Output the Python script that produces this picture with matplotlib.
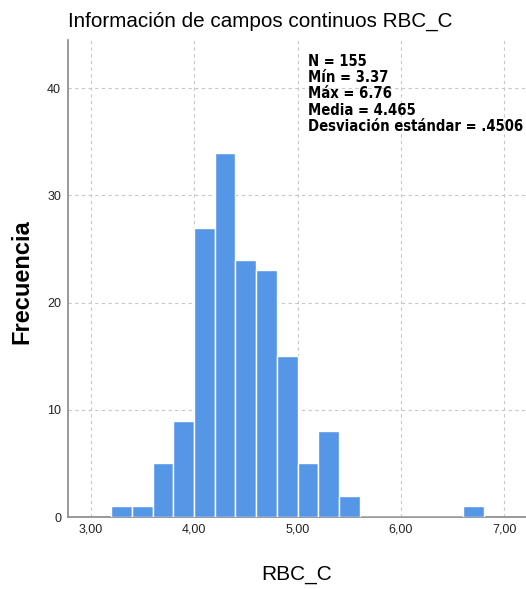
import matplotlib
matplotlib.use("Agg")
import matplotlib.pyplot as plt
import numpy as np

bin_edges = [3.2, 3.4, 3.6, 3.8, 4.0, 4.2, 4.4, 4.6, 4.8, 5.0, 5.2, 5.4, 5.6, 5.8, 6.0, 6.2, 6.4, 6.6, 6.8]
counts = [1, 1, 5, 9, 27, 34, 24, 23, 15, 5, 8, 2, 0, 0, 0, 0, 0, 1]
xticks = [3.0, 4.0, 5.0, 6.0, 7.0]
xtick_labels = ["3,00", "4,00", "5,00", "6,00", "7,00"]
yticks = [0, 10, 20, 30, 40]
stats_lines = ["N = 155", "Mín = 3.37", "Máx = 6.76", "Media = 4.465", "Desviación estándar = .4506"]

plt.rcParams['font.family'] = ['Liberation Sans', 'DejaVu Sans']

fig = plt.figure(figsize=(5.26, 5.89), dpi=100)
ax = fig.add_axes([68/526, 1-517/589, 1-68/526, (517-40)/589])

edges = np.array(bin_edges)
ax.bar(edges[:-1], counts, width=np.diff(edges), align='edge',
       color='#5596E6', edgecolor='white', linewidth=1.0, zorder=3)

ax.set_xlim(2.78, 7.21)
ax.set_ylim(0, 44.5)
ax.set_xticks(xticks)
ax.set_xticklabels(xtick_labels)
ax.set_yticks(yticks)
ax.tick_params(axis='both', length=0, labelsize=9, colors='#222222', pad=5)
ax.grid(True, linestyle=(0, (3, 3)), color='#c8c8c8', linewidth=0.8, zorder=0)
for s in ['top', 'right']:
    ax.spines[s].set_visible(False)
for s in ['left', 'bottom']:
    ax.spines[s].set_color('#888888')
    ax.spines[s].set_linewidth(1.2)

ax.set_xlabel("RBC_C", fontsize=15)
ax.xaxis.set_label_coords(0.5, (517-575)/477)
ax.xaxis.label.set_va('center')
ax.set_ylabel("Frecuencia", fontsize=17, fontweight='bold')
ax.yaxis.set_label_coords((22-68)/458, (517-282)/477)
ax.yaxis.label.set_va('center')
fig.text(68/526, 1-21/589, "Información de campos continuos RBC_C", fontsize=14.9,
         ha='left', va='center')

for i, line in enumerate(stats_lines):
    fig.text(308/526, 1-(66 + i*16.2)/589, line, fontsize=10.6, fontweight='bold',
             family='DejaVu Sans', stretch='condensed', ha='left', va='baseline')

fig.savefig("out.png", dpi=100)
